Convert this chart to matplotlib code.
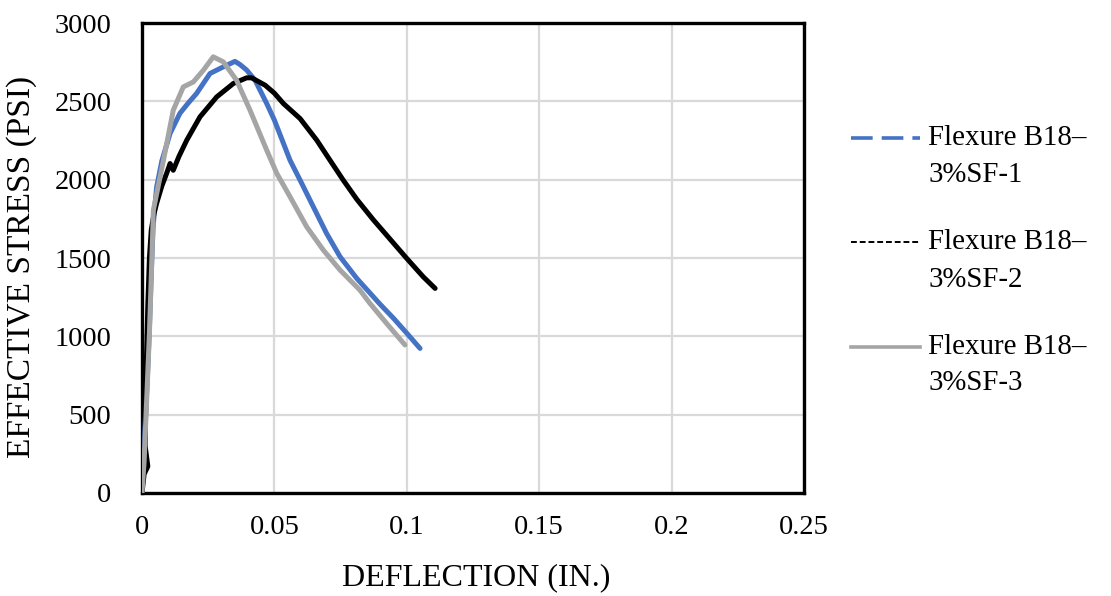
import matplotlib
matplotlib.use("Agg")
import matplotlib.pyplot as plt
from matplotlib.lines import Line2D

# ---------------- data ----------------
series_names = ["Flexure B18\u2013\n3%SF-1", "Flexure B18\u2013\n3%SF-2", "Flexure B18\u2013\n3%SF-3"]

x_sf1 = [0, 0.0008, 0.0015, 0.0022, 0.0028, 0.0035, 0.0042, 0.0055, 0.0075,
         0.0106, 0.0143, 0.0175, 0.0206, 0.0257, 0.0307, 0.0351, 0.037, 0.0395,
         0.0427, 0.0471, 0.05, 0.0559, 0.0597, 0.0647, 0.0697, 0.0748, 0.0811,
         0.0899, 0.095, 0.1, 0.105]
y_sf1 = [0, 300, 550, 800, 1050, 1400, 1700, 1950, 2120,
         2295, 2423, 2490, 2550, 2678, 2720, 2755, 2735, 2700,
         2635, 2486, 2380, 2124, 1997, 1827, 1657, 1508, 1370,
         1205, 1115, 1020, 923]

x_sf2 = [0, 0.0008, 0.0022, 0.0012, 0.0016, 0.0022, 0.0028, 0.0035, 0.0045, 0.0055,
         0.0075, 0.0093, 0.0106, 0.0118, 0.014, 0.0169, 0.0219, 0.0282, 0.0345,
         0.0395, 0.0414, 0.0465, 0.05, 0.0534, 0.0597, 0.066, 0.071, 0.076, 0.0811,
         0.0873, 0.0937, 0.1, 0.1062, 0.1107]
y_sf2 = [0, 120, 170, 300, 800, 1200, 1500, 1680, 1780, 1848,
         1960, 2040, 2103, 2060, 2150, 2252, 2401, 2528, 2614,
         2650, 2650, 2603, 2552, 2486, 2390, 2252, 2124, 1997, 1875,
         1745, 1620, 1497, 1380, 1306]

x_sf3 = [0, 0.0008, 0.0015, 0.0028, 0.0037, 0.0043, 0.0081, 0.0118, 0.0156,
         0.0194, 0.0232, 0.0269, 0.0307, 0.0357, 0.0408, 0.0471, 0.0509, 0.0559,
         0.0622, 0.0685, 0.0748, 0.0823, 0.0861, 0.092, 0.0993]
y_sf3 = [0, 200, 487, 1020, 1486, 1806, 2124, 2443, 2592,
         2624, 2699, 2784, 2752, 2635, 2443, 2188, 2040, 1891,
         1699, 1550, 1423, 1295, 1210, 1090, 945]

x_ticks = [0, 0.05, 0.1, 0.15, 0.2, 0.25]
x_tick_labels = ["0", "0.05", "0.1", "0.15", "0.2", "0.25"]
y_ticks = [0, 500, 1000, 1500, 2000, 2500, 3000]
y_tick_labels = ["0", "500", "1000", "1500", "2000", "2500", "3000"]

# ---------------- styling ----------------
plt.rcParams["font.family"] = ["Liberation Serif", "DejaVu Serif"]
colors = ["#4472C4", "#000000", "#A5A5A5"]

fig = plt.figure(figsize=(11.11, 5.96), dpi=100)
W, H = 1111, 596
ax = fig.add_axes([142 / W, 1 - 493 / H, (804 - 142) / W, (493 - 23) / H])

for xs, ys, c in zip([x_sf1, x_sf2, x_sf3], [y_sf1, y_sf2, y_sf3], colors):
    ax.plot(xs, ys, color=c, lw=3.6, solid_joinstyle="round", solid_capstyle="round", zorder=3)

ax.set_xlim(0, 0.25)
ax.set_ylim(0, 3000)
ax.set_xticks(x_ticks)
ax.set_xticklabels(x_tick_labels)
ax.set_yticks(y_ticks)
ax.set_yticklabels(y_tick_labels)
ax.tick_params(axis="both", length=0, labelsize=20.5, colors="#000000")
ax.tick_params(axis="y", pad=22)
ax.tick_params(axis="x", pad=16)
ax.grid(True, color="#D9D9D9", lw=1.6, zorder=0)
ax.set_axisbelow(True)
for s in ax.spines.values():
    s.set_linewidth(2.4)
    s.set_color("#000000")

ax.set_xlabel("DEFLECTION (IN.)", fontsize=23, va="center")
ax.xaxis.set_label_coords((476 - 142) / 662, (493 - 578) / 470)
ax.set_ylabel("EFFECTIVE STRESS (PSI)", fontsize=24, va="center")
ax.yaxis.set_label_coords((22 - 142) / 662, (493 - 267) / 470)

# ---------------- manual legend (handle aligned with first text line) ----------------
handle_styles = [
    dict(color=colors[0], lw=2.6, dashes=(6, 2.5)),
    dict(color=colors[1], lw=1.4, dashes=(3, 1.5)),
    dict(color=colors[2], lw=2.6),
]
line1_y = [138, 242, 347]
line2_y = [175, 280, 383]
for name, st, y1, y2 in zip(series_names, handle_styles, line1_y, line2_y):
    fig.add_artist(Line2D([851 / W, 920 / W], [1 - y1 / H, 1 - y1 / H],
                          transform=fig.transFigure, **st))
    first, second = name.split("\n")
    fig.text(928 / W, 1 - y1 / H, first, fontsize=20.8, va="center", ha="left")
    fig.text(928 / W, 1 - y2 / H, second, fontsize=20.8, va="center", ha="left")

fig.savefig("out.png", dpi=100)
